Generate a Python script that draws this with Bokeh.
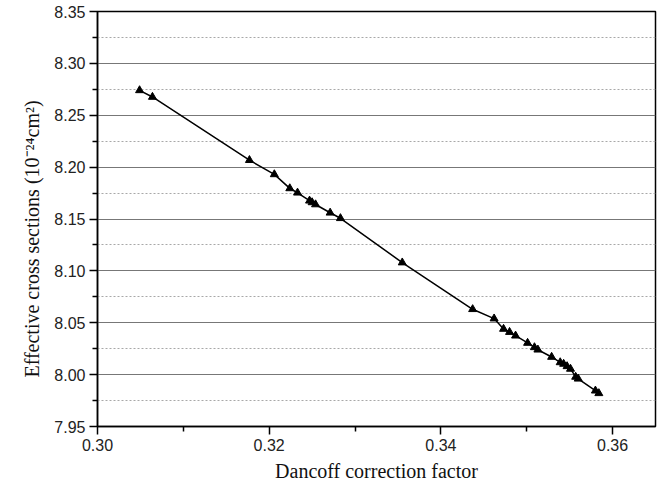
from bokeh.plotting import figure
from bokeh.models import Range1d, FixedTicker, ColumnDataSource, CustomJSTickFormatter
from bokeh.embed import file_html
from bokeh.resources import INLINE

# Data
dancoff = [0.3049, 0.3064, 0.3177, 0.3206, 0.3224, 0.3233, 0.3247, 0.3250,
           0.3254, 0.3271, 0.3283, 0.3355, 0.3437, 0.3462, 0.3473, 0.3480,
           0.3487, 0.3501, 0.3509, 0.3513, 0.3529, 0.3539, 0.3543, 0.3547,
           0.3551, 0.3557, 0.3560, 0.3580, 0.3584]
cross_section = [8.274, 8.2676, 8.2067, 8.193, 8.1795, 8.1753, 8.1676, 8.166,
                 8.164, 8.156, 8.1507, 8.108, 8.063, 8.054, 8.044, 8.041,
                 8.0375, 8.0305, 8.0263, 8.024, 8.017, 8.0118, 8.0103, 8.008,
                 8.0055, 7.9978, 7.996, 7.9845, 7.982]

x_ticks = [0.30, 0.32, 0.34, 0.36]
x_minor = [0.31, 0.33, 0.35]
y_ticks = [7.95, 8.00, 8.05, 8.10, 8.15, 8.20, 8.25, 8.30, 8.35]
y_minor = [7.975, 8.025, 8.075, 8.125, 8.175, 8.225, 8.275, 8.325]

x_title = "Dancoff correction factor"
y_title = "Effective cross sections (10\u207b\u00b2\u2074cm\u00b2)"

src = ColumnDataSource(data=dict(x=dancoff, y=cross_section))

p = figure(width=667, height=492, output_backend="svg", toolbar_location=None,
           x_range=Range1d(0.30, 0.365), y_range=Range1d(7.95, 8.35),
           min_border_left=97, min_border_right=12, min_border_top=11,
           min_border_bottom=66)
p.background_fill_color = "white"
p.border_fill_color = "white"
p.outline_line_color = "black"
p.outline_line_width = 1.5

p.xgrid.grid_line_color = None
p.ygrid.ticker = FixedTicker(ticks=y_ticks, minor_ticks=y_minor)
p.ygrid.grid_line_color = "#777777"
p.ygrid.grid_line_width = 1.2
p.ygrid.minor_grid_line_color = "#a8a8a8"
p.ygrid.minor_grid_line_width = 1
p.ygrid.minor_grid_line_dash = "2 2"

p.line("x", "y", source=src, line_color="black", line_width=1.5)
p.scatter("x", "y", source=src, marker="triangle", size=8,
          fill_color="black", line_color="black")

p.xaxis.ticker = FixedTicker(ticks=x_ticks, minor_ticks=x_minor)
p.yaxis.ticker = FixedTicker(ticks=y_ticks, minor_ticks=y_minor)
p.xaxis.formatter = CustomJSTickFormatter(code="return tick.toFixed(2);")
p.yaxis.formatter = CustomJSTickFormatter(code="return tick.toFixed(2);")

for ax in (p.xaxis, p.yaxis):
    ax.axis_line_color = "black"
    ax.axis_line_width = 1.5
    ax.major_tick_line_color = "black"
    ax.major_tick_line_width = 1.5
    ax.minor_tick_line_color = "black"
    ax.minor_tick_line_width = 1.5
    ax.major_tick_out = 8
    ax.major_tick_in = 0
    ax.minor_tick_out = 5
    ax.minor_tick_in = 0
    ax.major_label_text_font = "Liberation Sans"
    ax.major_label_text_font_size = "16px"
    ax.major_label_text_color = "#222222"
    ax.axis_label_text_font = "Liberation Serif"
    ax.axis_label_text_font_size = "20px"
    ax.axis_label_text_font_style = "normal"
    ax.axis_label_text_color = "#111111"

p.xaxis.axis_label = x_title
p.xaxis.major_label_standoff = 4
p.xaxis.axis_label_standoff = 6
p.yaxis.major_label_standoff = 4
# trailing no-break spaces shift the rotated title downward, as in the reference
p.yaxis.axis_label = y_title + "\u00a0" * 8
p.yaxis.axis_label_standoff = 8

open("out.html", "w").write(file_html(p, INLINE))
